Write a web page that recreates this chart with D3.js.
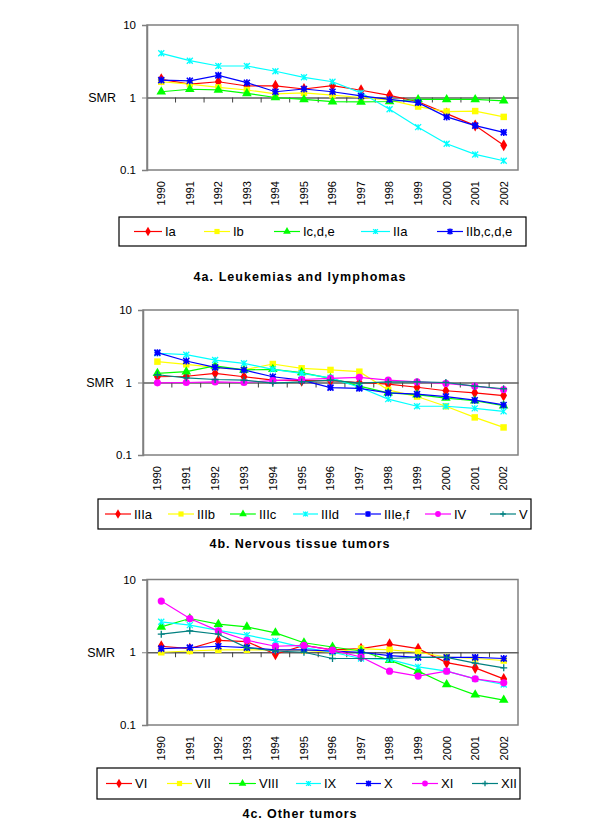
<!DOCTYPE html>
<html><head><meta charset="utf-8">
<script src="https://cdn.jsdelivr.net/npm/d3@7/dist/d3.min.js"></script>
<style>body{margin:0;background:#fff}svg{display:block}</style>
</head><body>
<script>
// ---------- DATA ----------
const years = ["1990","1991","1992","1993","1994","1995","1996","1997","1998","1999","2000","2001","2002"];
const yTickValues = [0.1, 1, 10];
const yTickLabels = ["0.1", "1", "10"];

// Panel 4a: Leukemias and lymphomas
const seriesA = ["Ia", "Ib", "Ic,d,e", "IIa", "IIb,c,d,e"];
const valIa    = [1.78,1.53,1.65,1.44,1.45,1.31,1.46,1.26,1.07,0.875,0.60,0.41,0.22];
const valIb    = [1.65,1.53,1.38,1.27,1.12,1.16,1.08,1.00,0.92,0.75,0.64,0.65,0.54];
const valIcde  = [1.20,1.30,1.27,1.14,1.00,0.94,0.875,0.87,0.88,0.94,0.94,0.94,0.90];
const valIIa   = [4.07,3.22,2.72,2.72,2.30,1.90,1.65,1.16,0.69,0.39,0.23,0.164,0.134];
const valIIbcde= [1.74,1.70,2.02,1.60,1.20,1.31,1.20,1.05,0.94,0.85,0.54,0.41,0.33];

// Panel 4b: Nervous tissue tumors
const seriesB = ["IIIa", "IIIb", "IIIc", "IIId", "IIIe,f", "IV", "V"];
const valIIIa  = [1.20,1.22,1.34,1.20,1.08,1.06,1.06,1.00,0.95,0.86,0.77,0.72,0.66];
const valIIIb  = [1.94,1.78,1.62,1.49,1.80,1.57,1.49,1.41,0.79,0.64,0.47,0.33,0.24];
const valIIIc  = [1.34,1.41,1.69,1.49,1.52,1.37,1.14,0.89,0.72,0.68,0.61,0.56,0.48];
const valIIId  = [2.53,2.42,2.04,1.84,1.52,1.34,1.16,0.86,0.59,0.47,0.47,0.44,0.40];
const valIIIef = [2.58,1.98,1.62,1.49,1.20,1.08,0.85,0.83,0.72,0.69,0.64,0.57,0.49];
const valIV    = [0.99,1.00,1.02,1.00,1.06,1.10,1.14,1.18,1.08,1.02,0.97,0.89,0.80];
const valV     = [1.28,1.16,1.10,1.08,0.98,1.02,1.08,0.98,1.02,1.02,1.00,0.89,0.82];

// Panel 4c: Other tumors
const seriesC = ["VI", "VII", "VIII", "IX", "X", "XI", "XII"];
const valVI    = [1.21,1.12,1.46,1.40,0.94,1.24,1.08,1.12,1.29,1.12,0.72,0.61,0.43];
const valVII   = [1.00,1.04,1.08,1.08,1.08,1.06,1.00,1.12,1.08,1.00,0.86,0.82,0.77];
const valVIII  = [2.23,2.91,2.43,2.23,1.85,1.35,1.18,1.04,0.78,0.55,0.36,0.26,0.22];
const valIX    = [2.62,2.36,2.00,1.72,1.43,1.16,1.00,0.82,0.80,0.63,0.55,0.43,0.36];
const valX     = [1.12,1.16,1.21,1.16,1.08,1.08,1.04,1.00,0.90,0.85,0.85,0.85,0.82];
const valXI    = [5.05,2.91,1.97,1.46,1.21,1.24,1.07,0.86,0.55,0.47,0.55,0.43,0.38];
const valXII   = [1.77,1.97,1.77,1.16,1.04,1.00,0.82,0.82,0.82,0.85,0.85,0.71,0.61];

const titles = ["4a.  Leukemias and lymphomas", "4b.  Nervous tissue tumors", "4c.  Other tumors"];

// ---------- STYLES ----------
const FONT = "'Liberation Sans', Arial, sans-serif";
const styleRed = {color:"#ff0000", marker:"diamond"};
const styleYellow = {color:"#ffff00", marker:"square"};
const styleGreen = {color:"#00ff00", marker:"triangle"};
const styleCyan = {color:"#00ffff", marker:"xcross"};
const styleBlue = {color:"#0000ff", marker:"asterisk"};
const styleMagenta = {color:"#ff00ff", marker:"circle"};
const styleTeal = {color:"#008080", marker:"plus"};

const svg = d3.select("body").append("svg").attr("width",600).attr("height",823);

function drawMarker(g, type, color, x, y, s) {
  if (type === "diamond") {
    g.append("path").attr("d", d3.symbol(d3.symbolDiamond, 42*s*s)()).attr("transform",`translate(${x},${y})`).attr("fill",color);
  } else if (type === "square") {
    g.append("path").attr("d", d3.symbol(d3.symbolSquare, 42*s*s)()).attr("transform",`translate(${x},${y})`).attr("fill",color);
  } else if (type === "triangle") {
    g.append("path").attr("d", d3.symbol(d3.symbolTriangle, 40*s*s)()).attr("transform",`translate(${x},${y})`).attr("fill",color);
  } else if (type === "circle") {
    g.append("circle").attr("cx",x).attr("cy",y).attr("r",3.6*s).attr("fill",color);
  } else if (type === "xcross") {
    const r = 3*s;
    g.append("path").attr("d",`M${x-r},${y-r}L${x+r},${y+r}M${x-r},${y+r}L${x+r},${y-r}M${x},${y-r}L${x},${y+r}`)
      .attr("stroke",color).attr("stroke-width",1.3).attr("fill","none");
  } else if (type === "asterisk") {
    const r = 3*s;
    g.append("path").attr("d",`M${x-r},${y-r}L${x+r},${y+r}M${x-r},${y+r}L${x+r},${y-r}M${x},${y-r-0.5}L${x},${y+r+0.5}M${x-r},${y}L${x+r},${y}`)
      .attr("stroke",color).attr("stroke-width",1.6).attr("fill","none");
  } else if (type === "plus") {
    const r = 3.5*s;
    g.append("path").attr("d",`M${x},${y-r}L${x},${y+r}M${x-r},${y}L${x+r},${y}`)
      .attr("stroke",color).attr("stroke-width",1.3).attr("fill","none");
  }
}

function drawPanel(cfg) {
  const g = svg.append("g");
  const x = d3.scaleBand().domain(years).range([cfg.left, cfg.right]);
  const y = d3.scaleLog().domain([0.1, 10]).range([cfg.bottom, cfg.top]);

  // frame
  g.append("rect").attr("x",cfg.left).attr("y",cfg.top).attr("width",cfg.right-cfg.left).attr("height",cfg.bottom-cfg.top)
    .attr("fill","none").attr("stroke","#808080").attr("stroke-width",1.5);

  // y axis
  const yAxis = d3.axisLeft(y).tickValues(yTickValues).tickFormat((d,i)=>yTickLabels[i]).tickSize(5).tickPadding(6);
  const ya = g.append("g").attr("transform",`translate(${cfg.left},0)`).call(yAxis);
  ya.select(".domain").attr("stroke","#808080").attr("stroke-width",1.5);
  ya.selectAll(".tick line").attr("stroke","#808080");
  ya.selectAll("text").attr("font-family",FONT).attr("font-size",11.5).attr("fill","#000");

  // SMR label
  g.append("text").attr("x",cfg.smrX).attr("y",y(1)).attr("dy","0.35em").attr("text-anchor","end")
    .attr("font-family",FONT).attr("font-size",12.5).text("SMR");

  // x axis at SMR = 1
  const xAxis = d3.axisBottom(x).tickSize(0).tickFormat("");
  const xa = g.append("g").attr("transform",`translate(0,${y(1)})`).call(xAxis);
  xa.select(".domain").attr("stroke","#606060").attr("stroke-width",1.5);
  years.slice(1).forEach(yr => {
    g.append("line").attr("x1",x(yr)).attr("x2",x(yr)).attr("y1",y(1)).attr("y2",y(1)+5)
      .attr("stroke","#404040").attr("stroke-width",1);
  });

  // year labels
  years.forEach(yr => {
    const cx = x(yr) + x.bandwidth()/2;
    g.append("text").attr("transform",`translate(${cx},${cfg.bottom+11}) rotate(-90)`)
      .attr("text-anchor","end").attr("dy","0.35em")
      .attr("font-family",FONT).attr("font-size",11).text(yr);
  });

  // series
  const line = d3.line().x((d,i)=>x(years[i])+x.bandwidth()/2).y(d=>y(d));
  cfg.series.forEach((s, k) => {
    const st = cfg.styles[k];
    g.append("path").attr("d", line(s)).attr("fill","none").attr("stroke",st.color).attr("stroke-width",1.2);
    s.forEach((v,i)=> drawMarker(g, st.marker, st.color, x(years[i])+x.bandwidth()/2, y(v), 1));
  });

  // legend
  const L = cfg.legend;
  g.append("rect").attr("x",L.x0).attr("y",L.y0).attr("width",L.x1-L.x0).attr("height",L.y1-L.y0)
    .attr("fill","#fff").attr("stroke","#000").attr("stroke-width",1.2);
  const ly = (L.y0+L.y1)/2;
  cfg.names.forEach((n,k) => {
    const st = cfg.styles[k];
    const [a,b] = L.items[k];
    g.append("line").attr("x1",a).attr("x2",b).attr("y1",ly).attr("y2",ly).attr("stroke",st.color).attr("stroke-width",1.2);
    drawMarker(g, st.marker, st.color, (a+b)/2, ly, 0.8);
    g.append("text").attr("x",b+3).attr("y",ly).attr("dy","0.36em").attr("font-family",FONT).attr("font-size",13).text(n);
  });

  // title
  g.append("text").attr("x",299.5).attr("y",cfg.titleY).attr("dy","0.35em").attr("text-anchor","middle")
    .attr("font-family",FONT).attr("font-weight","bold").attr("font-size",12.5)
    .attr("textLength",cfg.titleW).attr("lengthAdjust","spacing").text(cfg.title);
}

drawPanel({
  left:147, right:518, top:25, bottom:170, smrX:116,
  series:[valIa,valIb,valIcde,valIIa,valIIbcde], names:seriesA,
  styles:[styleRed,styleYellow,styleGreen,styleCyan,styleBlue],
  legend:{x0:119,x1:526,y0:217,y1:246, items:[[134,162],[204,230],[274,300],[361,390],[437,463]]},
  title:titles[0], titleY:277, titleW:212
});
drawPanel({
  left:143, right:518, top:310, bottom:455, smrX:114,
  series:[valIIIa,valIIIb,valIIIc,valIIId,valIIIef,valIV,valV], names:seriesB,
  styles:[styleRed,styleYellow,styleGreen,styleCyan,styleBlue,styleMagenta,styleTeal],
  legend:{x0:98,x1:531,y0:499,y1:529, items:[[105,131],[168,194],[230,256],[293,318],[355,381],[425,451],[490,516]]},
  title:titles[1], titleY:544, titleW:180
});
drawPanel({
  left:147, right:518, top:579.5, bottom:725, smrX:115,
  series:[valVI,valVII,valVIII,valIX,valX,valXI,valXII], names:seriesC,
  styles:[styleRed,styleYellow,styleGreen,styleCyan,styleBlue,styleMagenta,styleTeal],
  legend:{x0:97,x1:520,y0:768,y1:799, items:[[106,132],[167,192],[229,256],[296,321],[356,381],[412,438],[472,498]]},
  title:titles[2], titleY:814, titleW:114
});
</script>
</body></html>
